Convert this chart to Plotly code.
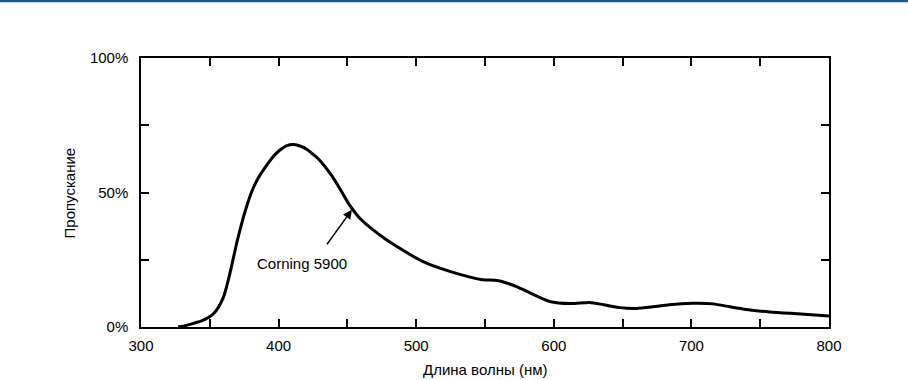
import plotly.graph_objects as go

# Corning 5900 transmission curve
wavelength_nm = [327, 333, 339, 344, 349, 353, 356, 360, 363, 366, 369, 372, 376, 381, 385, 389,
                 396, 401, 406, 411, 416, 421, 425, 430, 437, 441, 445, 452, 458, 466, 476, 486,
                 505, 525, 548, 559, 573, 585, 597, 612, 626, 636, 648, 660, 672, 684, 701,
                 716, 728, 740, 757, 777, 800]
transmission_pct = [0.0, 0.6, 1.5, 2.3, 3.5, 5.1, 7.1, 11.2, 16.6, 23.0, 30.0, 36.2, 43.6, 51.0, 55.2,
                    58.4, 63.3, 65.8, 67.4, 67.8, 67.2, 65.9, 64.2, 61.9, 57.4, 54.4, 51.0, 45.0,
                    41.0, 37.2, 33.3, 29.9, 24.3, 20.6, 17.6, 17.3, 15.0, 12.1, 9.5, 8.7, 9.1,
                    8.3, 7.2, 6.9, 7.5, 8.3, 8.8, 8.6, 7.5, 6.5, 5.6, 4.9, 4.1]

x_tickvals = [300, 350, 400, 450, 500, 550, 600, 650, 700, 750, 800]
x_ticktext = ["300", "", "400", "", "500", "", "600", "", "700", "", "800"]
y_tickvals = [0, 25, 50, 75, 100]
y_ticktext = ["0%", "", "50%", "", "100%"]

x_title = "Длина волны (нм)"
y_title = "Пропускание"
series_label = "Corning 5900"
label_pos = (417, 23.5)
arrow_head = (453.3, 43.6)

font_family = "Liberation Sans, Arial, sans-serif"
fsize = 15

fig = go.Figure()
fig.add_trace(go.Scatter(
    x=wavelength_nm, y=transmission_pct, mode="lines",
    line=dict(color="black", width=3, shape="spline", smoothing=0.7),
    showlegend=False, hoverinfo="skip",
))

axis_common = dict(
    showline=True, linecolor="black", linewidth=1.5, mirror="ticks",
    ticks="inside", ticklen=8, tickwidth=1.5, tickcolor="black",
    showgrid=False, zeroline=False, automargin=False,
    tickfont=dict(family=font_family, size=fsize, color="black"),
)

fig.update_xaxes(
    range=[300, 800], tickmode="array", tickvals=x_tickvals, ticktext=x_ticktext,
    ticklabelstandoff=4,
    **axis_common,
)
fig.update_yaxes(
    range=[0, 100], tickmode="array", tickvals=y_tickvals, ticktext=y_ticktext,
    ticklabelstandoff=8,
    **axis_common,
)

# axis titles as annotations for exact placement
fig.add_annotation(
    x=0.5, y=-0.1577, xref="paper", yref="paper", text=x_title, showarrow=False,
    xanchor="center", yanchor="middle",
    font=dict(family=font_family, size=fsize, color="black"),
)
fig.add_annotation(
    x=-0.1032, y=0.5, xref="paper", yref="paper", text=y_title, showarrow=False,
    xanchor="center", yanchor="middle", textangle=-90,
    font=dict(family=font_family, size=fsize, color="black"),
)

fig.add_annotation(
    x=arrow_head[0], y=arrow_head[1], text="", showarrow=True,
    ax=-26, ay=36, arrowhead=2, arrowsize=1.2, arrowwidth=1.5, arrowcolor="black",
)
fig.add_annotation(
    x=label_pos[0], y=label_pos[1], text=series_label, showarrow=False,
    font=dict(family=font_family, size=fsize, color="black"),
)

fig.add_shape(
    type="line", xref="paper", yref="paper", x0=-1, x1=2, y0=1.2115, y1=1.2115,
    line=dict(color="#14599b", width=2.5),
)

fig.update_layout(
    width=908, height=380,
    margin=dict(l=141, r=79, t=58, b=52.5, autoexpand=False),
    paper_bgcolor="white", plot_bgcolor="white",
    font=dict(family=font_family, size=fsize, color="black"),
)

fig.write_html("out.html", config={"displayModeBar": False},
               post_script="document.body.style.margin='0';")
